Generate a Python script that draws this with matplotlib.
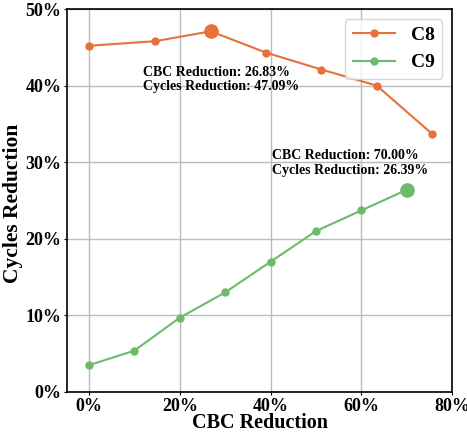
import matplotlib
matplotlib.use("Agg")
import matplotlib.pyplot as plt
from matplotlib.ticker import FuncFormatter

plt.rcParams['font.family'] = ['Liberation Serif', 'DejaVu Serif']
plt.rcParams['font.weight'] = 'bold'

c8_x = [0.0, 14.63, 26.83, 39.02, 51.22, 63.41, 75.61]
c8_y = [45.2, 45.8, 47.09, 44.3, 42.1, 40.0, 33.7]
c9_x = [0, 10, 20, 30, 40, 50, 60, 70]
c9_y = [3.5, 5.4, 9.7, 13.0, 17.0, 21.0, 23.7, 26.39]
c8_best = (26.83, 47.09)
c9_best = (70.0, 26.39)
col8 = '#E8703A'
col9 = '#6CBA6C'

fig = plt.figure(figsize=(4.67, 4.37), dpi=100)
ax = fig.add_axes([67/467, 1-392/437, (452-67)/467, (392-9)/437])

ax.plot(c8_x, c8_y, '-o', color=col8, ms=5, lw=1.5, label='C8')
ax.plot(c9_x, c9_y, '-o', color=col9, ms=5, lw=1.5, label='C9')
ax.plot([c8_best[0]], [c8_best[1]], 'o', color=col8, ms=9.5)
ax.plot([c9_best[0]], [c9_best[1]], 'o', color=col9, ms=9.5)

ax.text(11.9, 42.6, f"CBC Reduction: {c8_best[0]:.2f}%\nCycles Reduction: {c8_best[1]:.2f}%",
        fontsize=10, fontweight='bold', va='top', ha='left', linespacing=1.15)
ax.text(40.3, 31.7, f"CBC Reduction: {c9_best[0]:.2f}%\nCycles Reduction: {c9_best[1]:.2f}%",
        fontsize=10, fontweight='bold', va='top', ha='left', linespacing=1.15)

ax.set_xlim(-4.85, 80)
ax.set_ylim(0, 50)
ax.set_xticks([0, 20, 40, 60, 80])
ax.set_yticks([0, 10, 20, 30, 40, 50])
fmt = FuncFormatter(lambda v, p: f"{v:.0f}%")
ax.xaxis.set_major_formatter(fmt)
ax.yaxis.set_major_formatter(fmt)
ax.tick_params(labelsize=13, length=2.5, width=0.8, pad=1.5)
for lab in ax.get_xticklabels() + ax.get_yticklabels():
    lab.set_fontweight('bold')
ax.grid(True, color='#bcbcbc', lw=1)
ax.set_axisbelow(True)
for s in ax.spines.values():
    s.set_color('black')
    s.set_linewidth(1.2)

ax.set_xlabel('CBC Reduction', fontsize=14.5, fontweight='bold')
ax.set_ylabel('Cycles Reduction', fontsize=15.5, fontweight='bold')
ax.xaxis.set_label_coords(0.501, -0.054)
ax.xaxis.label.set_va('top')
ax.yaxis.set_label_coords(-0.115, 0.493)

leg = ax.legend(loc='upper right', prop={'weight': 'bold', 'size': 14},
                handlelength=2.15, handletextpad=0.8, borderaxespad=0.5,
                labelspacing=0.5, framealpha=0.8)

fig.savefig('out.png', dpi=100)
